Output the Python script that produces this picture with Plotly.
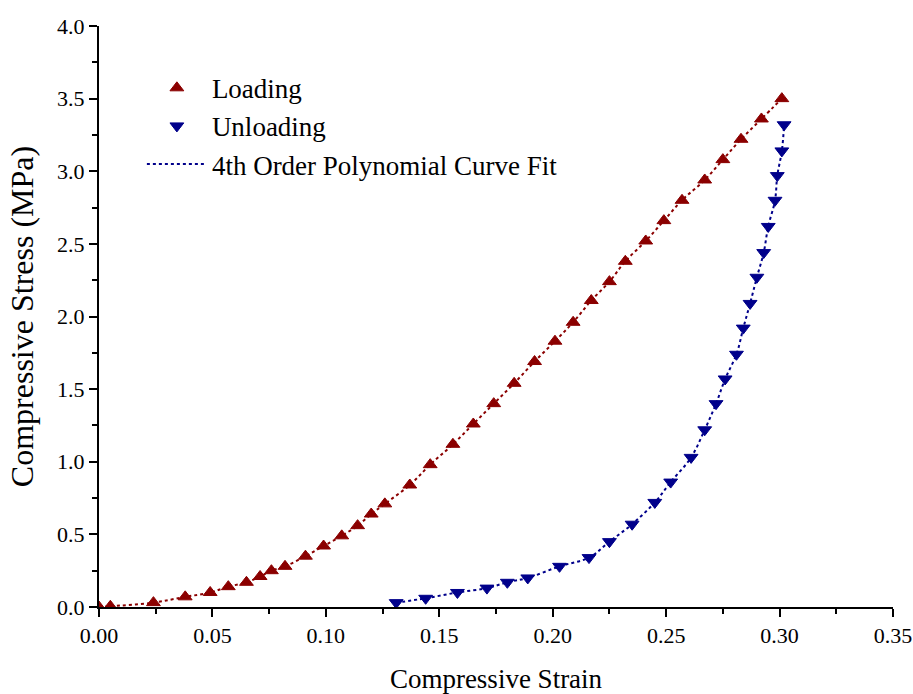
import plotly.graph_objects as go

# Loading data (strain, stress MPa)
load_strain = [0.000, 0.005, 0.024, 0.038, 0.049, 0.057, 0.065, 0.071, 0.076, 0.082,
               0.091, 0.099, 0.107, 0.114, 0.120, 0.126, 0.137, 0.146, 0.156, 0.165,
               0.174, 0.183, 0.192, 0.201, 0.209, 0.217, 0.225, 0.232, 0.241, 0.249,
               0.257, 0.267, 0.275, 0.283, 0.292, 0.301]
load_stress = [0.00, 0.005, 0.03, 0.07, 0.10, 0.14, 0.17, 0.21, 0.25, 0.28,
               0.35, 0.42, 0.49, 0.56, 0.64, 0.71, 0.84, 0.98, 1.12, 1.26,
               1.40, 1.54, 1.69, 1.83, 1.96, 2.11, 2.24, 2.38, 2.52, 2.66,
               2.80, 2.94, 3.08, 3.22, 3.36, 3.50]

# Unloading data
unload_strain = [0.131, 0.144, 0.158, 0.171, 0.180, 0.189, 0.203, 0.216, 0.225, 0.235,
                 0.245, 0.252, 0.261, 0.267, 0.272, 0.276, 0.281, 0.284, 0.287, 0.290,
                 0.293, 0.295, 0.298, 0.299, 0.301, 0.302]
unload_stress = [0.03, 0.06, 0.10, 0.13, 0.17, 0.20, 0.28, 0.34, 0.45, 0.57,
                 0.72, 0.86, 1.03, 1.22, 1.40, 1.57, 1.74, 1.92, 2.09, 2.27,
                 2.44, 2.62, 2.80, 2.97, 3.14, 3.32]

x_ticks = [0.00, 0.05, 0.10, 0.15, 0.20, 0.25, 0.30, 0.35]
y_ticks = [0.0, 0.5, 1.0, 1.5, 2.0, 2.5, 3.0, 3.5, 4.0]

RED = "#8b0000"
BLUE = "#00008b"
FONT = "Liberation Serif"

fig = go.Figure()

# fit curves (dotted)
fig.add_trace(go.Scatter(x=load_strain, y=load_stress, mode="lines",
                         line=dict(color=RED, width=2, dash="dot", shape="spline"),
                         showlegend=False, hoverinfo="skip"))
fig.add_trace(go.Scatter(x=load_strain, y=load_stress, mode="markers", name="Loading",
                         marker=dict(symbol="triangle-up", size=12, color=RED,
                                     line=dict(color=RED, width=1))))
fig.add_trace(go.Scatter(x=unload_strain, y=unload_stress, mode="markers", name="Unloading",
                         marker=dict(symbol="triangle-down", size=12, color=BLUE,
                                     line=dict(color=BLUE, width=1))))
fig.add_trace(go.Scatter(x=unload_strain, y=unload_stress, mode="lines",
                         name="4th Order Polynomial Curve Fit",
                         line=dict(color=BLUE, width=2, dash="dot", shape="spline"),
                         hoverinfo="skip"))

axis_common = dict(
    showline=True, linecolor="black", linewidth=2,
    ticks="outside", ticklen=8, tickwidth=2, tickcolor="black",
    showgrid=False, zeroline=False, mirror=False,
    tickfont=dict(family=FONT, size=22, color="black"),
)

fig.update_xaxes(range=[0, 0.35], tickvals=x_ticks, tickformat=".2f",
                 minor=dict(ticks="outside", ticklen=5, tickwidth=2, tickcolor="black", dtick=0.025, tick0=0),
                 title=dict(text="Compressive Strain", font=dict(family=FONT, size=27, color="black"), standoff=31),
                 **axis_common)
fig.update_yaxes(range=[0, 4.0], tickvals=y_ticks, tickformat=".1f",
                 minor=dict(ticks="outside", ticklen=5, tickwidth=2, tickcolor="black", dtick=0.25, tick0=0),
                 title=dict(text="Compressive Stress (MPa)", font=dict(family=FONT, size=32, color="black"), standoff=14),
                 **axis_common)

fig.update_layout(
    width=913, height=694,
    margin=dict(l=99, r=20, t=26, b=87, autoexpand=False),
    plot_bgcolor="white", paper_bgcolor="white",
    font=dict(family=FONT, color="black"),
    legend=dict(x=0.054, y=0.935, xanchor="left", yanchor="top",
                font=dict(family=FONT, size=27, color="black"),
                bgcolor="rgba(0,0,0,0)", itemwidth=60, tracegroupgap=0),
)

fig.write_html("out.html")
